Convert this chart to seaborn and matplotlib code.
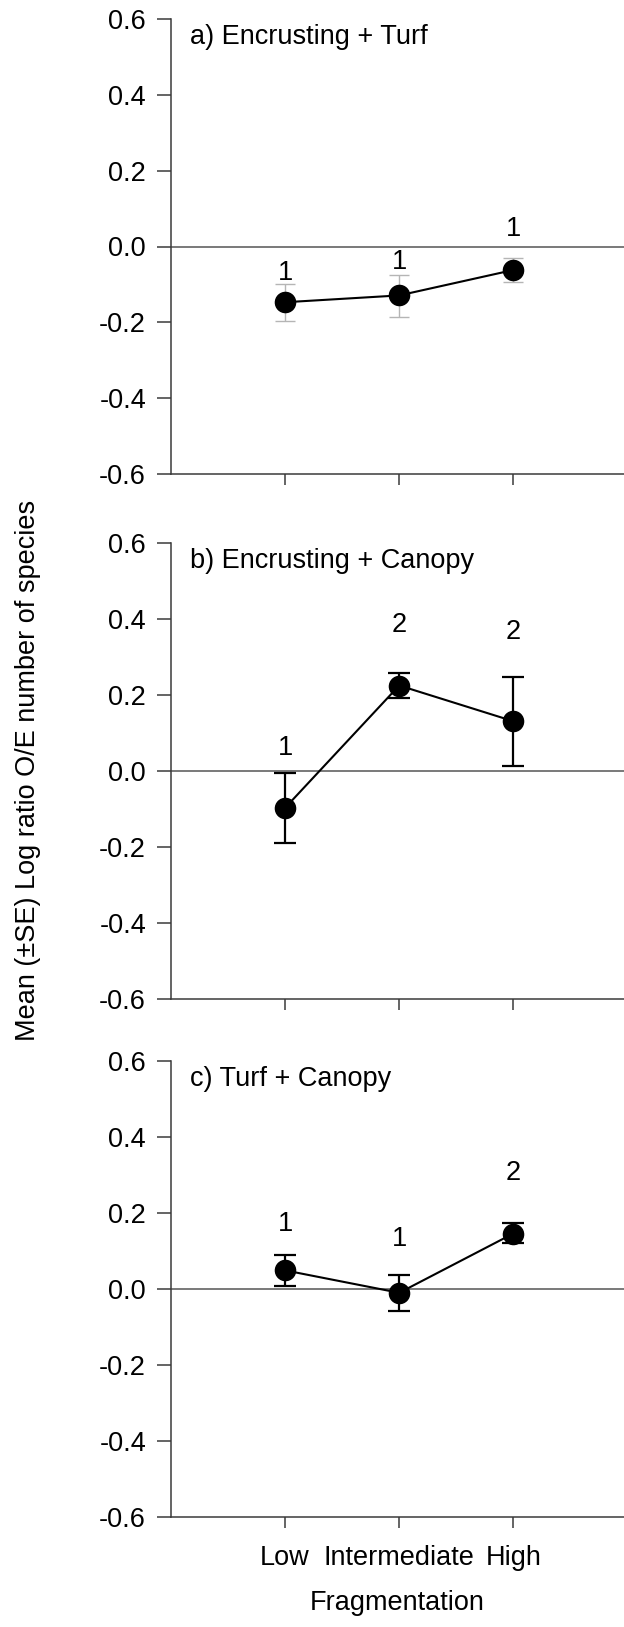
import numpy as np
import pandas as pd
import seaborn as sns
import matplotlib
matplotlib.use("Agg")
import matplotlib.pyplot as plt
from matplotlib.ticker import FormatStrFormatter

# categories on the x axis
cats = ["Low", "Intermediate", "High"]

# a) Encrusting + Turf
a_mean = [-0.147, -0.129, -0.062]
a_lo = [-0.197, -0.186, -0.093]
a_hi = [-0.100, -0.076, -0.030]
a_grp = ["1", "1", "1"]
a_grp_y = [-0.069, -0.040, 0.045]

# b) Encrusting + Canopy
b_mean = [-0.097, 0.225, 0.131]
b_lo = [-0.189, 0.191, 0.014]
b_hi = [-0.004, 0.258, 0.247]
b_grp = ["1", "2", "2"]
b_grp_y = [0.060, 0.384, 0.366]

# c) Turf + Canopy
c_mean = [0.049, -0.010, 0.146]
c_lo = [0.008, -0.058, 0.120]
c_hi = [0.090, 0.036, 0.174]
c_grp = ["1", "1", "2"]
c_grp_y = [0.172, 0.131, 0.305]

titles = ["a) Encrusting + Turf", "b) Encrusting + Canopy", "c) Turf + Canopy"]
yticks = [-0.6, -0.4, -0.2, 0.0, 0.2, 0.4, 0.6]

sns.set_style("ticks")
plt.rcParams["font.family"] = ["Liberation Sans", "DejaVu Sans"]
plt.rcParams["axes.unicode_minus"] = False
plt.rcParams["text.color"] = "black"
plt.rcParams["xtick.labelcolor"] = "black"
plt.rcParams["ytick.labelcolor"] = "black"
FS = 19.5
AX_COL = "#3a3a3a"

fig = plt.figure(figsize=(6.24, 16.27), dpi=100)
W, H = 624, 1627
boxes = [(19, 474), (543, 999), (1061, 1517)]
panels = [
    (a_mean, a_lo, a_hi, a_grp, a_grp_y, "#b5b5b5", 1.0, 7.2),
    (b_mean, b_lo, b_hi, b_grp, b_grp_y, "black", 1.6, 8.0),
    (c_mean, c_lo, c_hi, c_grp, c_grp_y, "black", 1.6, 8.0),
]

for i, ((top, bot), (mean, lo, hi, grp, grp_y, ecol, elw, cap)) in enumerate(zip(boxes, panels)):
    ax = fig.add_axes([171 / W, 1 - bot / H, (W - 171) / W, (bot - top) / H])
    df = pd.DataFrame({"frag": cats, "val": mean})
    ax.axhline(0, color="#555555", lw=1.1, zorder=1)
    pos = np.arange(len(cats))
    ax.errorbar(pos, mean,
                yerr=[np.array(mean) - np.array(lo), np.array(hi) - np.array(mean)],
                fmt="none", ecolor=ecol, elinewidth=elw, capsize=cap, capthick=elw, zorder=2)
    sns.pointplot(data=df, x="frag", y="val", order=cats, color="black", errorbar=None,
                  markers="o", markersize=14.4, linewidth=1.5, ax=ax, zorder=3)
    for p, g, gy in zip(pos, grp, grp_y):
        ax.text(p, gy, g, ha="center", va="center", fontsize=FS, color="black")
    ax.text(-0.83, 0.553, titles[i], ha="left", va="center", fontsize=FS, color="black")

    ax.set_xlim(-1, 2.97)
    ax.set_ylim(-0.6, 0.6)
    ax.set_yticks(yticks)
    ax.yaxis.set_major_formatter(FormatStrFormatter("%.1f"))
    ax.set_xticks(pos)
    ax.set_xlabel("")
    ax.set_ylabel("")
    if i == 2:
        ax.set_xticklabels(cats)
        ax.set_xlabel("Fragmentation", fontsize=FS, labelpad=14, color="black")
    else:
        ax.set_xticklabels([])
    sns.despine(ax=ax, right=True, top=True)
    for s in ["left", "bottom"]:
        ax.spines[s].set_color(AX_COL)
        ax.spines[s].set_linewidth(1.1)
    ax.tick_params(axis="y", length=10, width=1.1, color=AX_COL, pad=8, labelsize=FS)
    ax.tick_params(axis="x", length=8, width=1.1, color=AX_COL, pad=12, labelsize=FS)

fig.text(28 / W, 1 - 770 / H, "Mean (\u00b1SE) Log ratio O/E number of species",
         rotation=90, ha="center", va="center", fontsize=FS, color="black")

fig.savefig("out.png", dpi=100)
